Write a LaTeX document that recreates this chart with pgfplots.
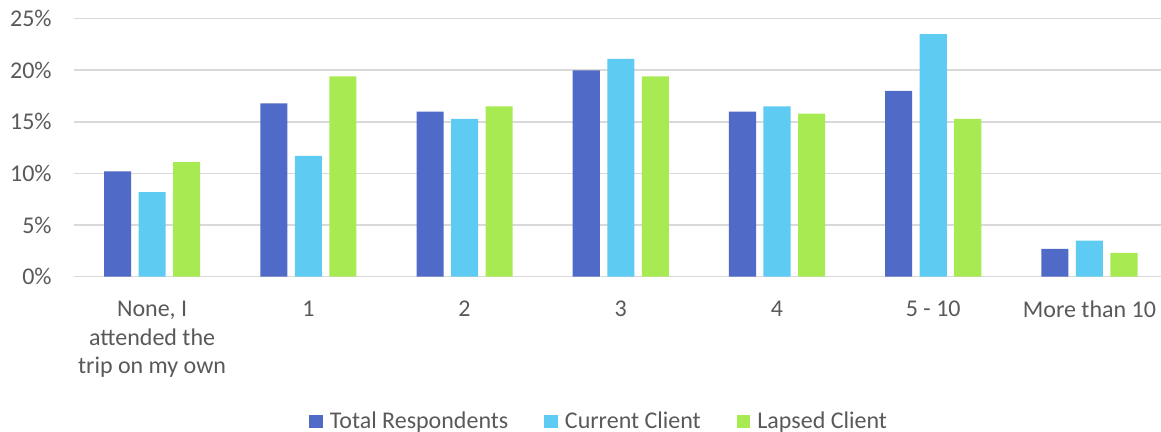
\documentclass[border=0pt]{standalone}
\usepackage{fontspec}
\setmainfont{Carlito}
\usepackage{pgfplots}
\pgfplotsset{compat=1.18}
\definecolor{cTotal}{RGB}{80,106,200}
\definecolor{cCurrent}{RGB}{94,204,242}
\definecolor{cLapsed}{RGB}{168,234,82}
\definecolor{cText}{RGB}{89,89,89}
\definecolor{cGrid}{RGB}{217,217,217}
\begin{document}
\begin{tikzpicture}
\path[use as bounding box] (-37pt,-77.65pt) rectangle (543.5pt,138.35pt);
\begin{axis}[
  at={(0pt,0pt)}, anchor=south west,
  scale only axis, width=543.5pt, height=129pt,
  xmin=-0.5, xmax=6.458, ymin=0, ymax=25,
  ytick={0,5,10,15,20,25},
  xtick={0,1,2,3,4,5,6},
  xticklabels={{None, I\\attended the\\trip on my own},1,2,3,4,{5 - 10},More than 10},
  ymajorgrids,
  major grid style={draw=cGrid, line width=0.8pt},
  axis line style={draw=none},
  major tick length=0pt,
  /pgf/number format/assume math mode=true,
  yticklabel={\pgfmathprintnumber{\tick}\%},
  every tick label/.append style={font=\fontsize{12}{14.4}\selectfont, text=cText},
  yticklabel style={anchor=east, inner sep=0pt, xshift=-11pt},
  xticklabel style={anchor=north, inner sep=0pt, yshift=-11.9pt, align=center},
  legend columns=3,
  legend style={at={(0.484,-0.562)}, anchor=center, draw=none, fill=none,
    font=\fontsize{12}{14.4}\selectfont, text=cText,
    /tikz/every odd column/.append style={column sep=1.5pt},
    /tikz/every even column/.append style={column sep=16pt}},
  legend image code/.code={\path[#1, draw=none] (0pt,-3.4pt) rectangle (6.8pt,3.4pt);},
]
\addplot[ybar, bar width=0.173, bar shift=-0.221, fill=cTotal, draw=none]
  coordinates {(0,10.2)(1,16.8)(2,16.0)(3,20.0)(4,16.0)(5,18.0)(6,2.7)};
\addplot[ybar, bar width=0.173, bar shift=0, fill=cCurrent, draw=none]
  coordinates {(0,8.2)(1,11.7)(2,15.3)(3,21.1)(4,16.5)(5,23.5)(6,3.5)};
\addplot[ybar, bar width=0.173, bar shift=0.221, fill=cLapsed, draw=none]
  coordinates {(0,11.1)(1,19.4)(2,16.5)(3,19.4)(4,15.8)(5,15.3)(6,2.3)};
\legend{Total Respondents,Current Client,Lapsed Client}
\end{axis}
\end{tikzpicture}
\end{document}
